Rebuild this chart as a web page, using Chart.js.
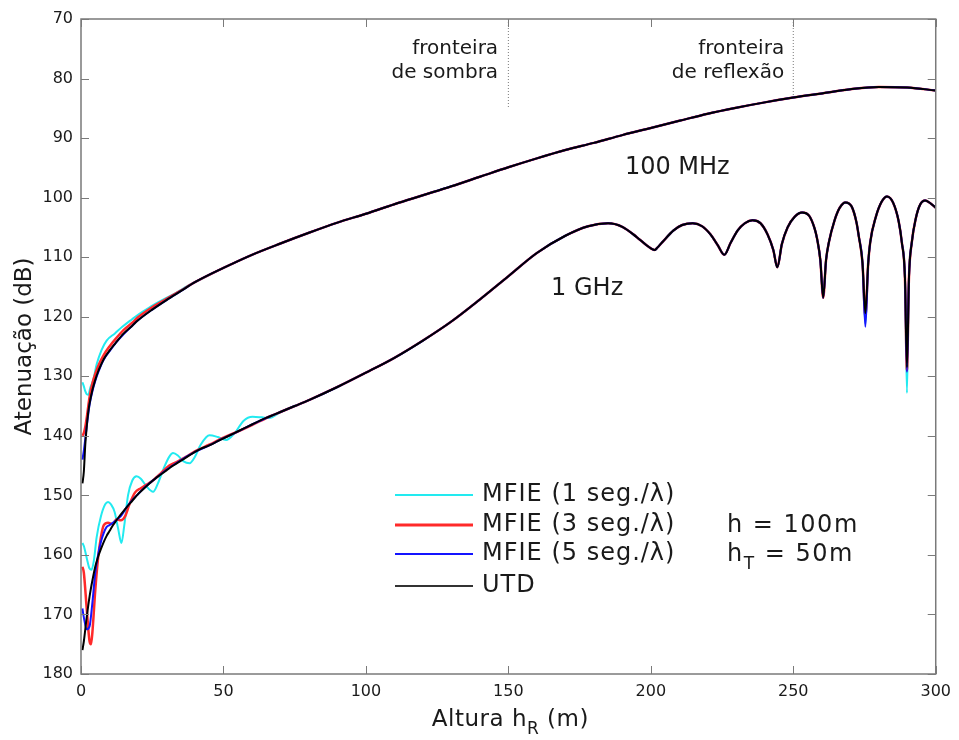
<!DOCTYPE html>
<html>
<head>
<meta charset="utf-8">
<script src="https://cdn.jsdelivr.net/npm/chart.js@4.4.1/dist/chart.umd.min.js"></script>
<style>
	html, body { margin: 0; padding: 0; background: #fff; }
	#wrap { width: 959px; height: 740px; }
</style>
</head>
<body>
<div id="wrap"><canvas id="myChart" width="959" height="740"></canvas></div>
<script>
// series names / colours
const seriesNames = ['MFIE (1 seg./λ)', 'MFIE (3 seg./λ)', 'MFIE (5 seg./λ)', 'UTD'];
const seriesColors = ['#22eaf0', '#ff2a2a', '#1414ff', '#000000'];
const seriesWidths = [2, 2.5, 2, 2];

// ---- 100 MHz, low heights (curves differ) ----
const h100Mfie1 = [0.5, 1, 1.5, 2, 2.6, 3.2, 4.3, 5.5, 7.2, 9, 11.9, 14.5, 17.7, 20.5, 23.5, 27, 32.9, 38.7];
const db100Mfie1 = [131, 131.7, 132.5, 133, 133.1, 132, 130.6, 128, 125.6, 124, 122.8, 121.7, 120.5, 119.5, 118.6, 117.6, 116.1, 114.5];
const h100Mfie3 = [0.5, 1, 1.5, 2, 3, 4, 5, 6, 8, 10, 12, 15, 18, 20, 25, 30, 35];
const db100Mfie3 = [140, 139.5, 138.5, 137, 133.5, 131.2, 129.6, 128.3, 126.4, 125, 123.8, 122.2, 121, 120.1, 118.4, 117, 115.6];
const h100Mfie5 = [0.5, 1, 1.5, 2, 3, 4, 5, 6, 8, 10, 12, 15, 18, 20, 25, 30, 35];
const db100Mfie5 = [144, 142.5, 140.5, 138.5, 134.8, 132.5, 130.8, 129.4, 127.2, 125.8, 124.5, 122.9, 121.5, 120.6, 118.8, 117.2, 115.7];
const h100Utd = [0.5, 1, 1.5, 2, 2.5, 3, 4, 5, 6, 7, 8, 10, 12, 15, 18, 20, 25, 30, 35];
const db100Utd = [148, 146, 141.5, 138.5, 136.2, 134.6, 132.3, 130.6, 129.2, 128.1, 127.1, 125.7, 124.5, 122.8, 121.5, 120.6, 118.8, 117.2, 115.7];
// ---- 100 MHz, all methods coincide ----
const h100Hi = [40, 50, 60, 70, 80, 90, 100, 110, 120, 130, 140, 150, 160, 170, 180, 190, 200, 210, 220, 230, 240, 250, 260, 270, 280, 290, 300];
const db100Hi = [114.2, 111.8, 109.6, 107.7, 105.9, 104.2, 102.7, 101.1, 99.6, 98.1, 96.5, 94.9, 93.4, 92, 90.8, 89.5, 88.3, 87.1, 85.9, 84.9, 84, 83.2, 82.5, 81.8, 81.4, 81.5, 82];

// ---- 1 GHz, low heights ----
const h1gMfie1 = [0.5, 1, 2, 3, 3.7, 4.5, 5.5, 7, 8.5, 9.5, 10.5, 11.8, 13, 14.2, 15.2, 16.5, 18, 19.5, 21, 23, 25.3, 27, 29, 31, 32.3, 34, 36, 38.1, 40, 42, 45.1, 48, 50.9, 54, 57, 60.2, 63.5, 66];
const db1gMfie1 = [158, 158.5, 160.5, 162.3, 162.5, 161, 157, 153.5, 151.5, 151.1, 151.5, 152.8, 155.5, 158, 155, 150, 147.5, 146.8, 147.2, 148.5, 149.4, 148, 145.5, 143.5, 142.9, 143.3, 144.3, 144.6, 143.5, 141.5, 139.9, 140.2, 140.7, 139.5, 137.5, 136.8, 136.9, 137];
const h1gMfie3 = [0.5, 1, 2, 3, 3.5, 4, 5, 6, 7, 8, 9.5, 11, 12.5, 14, 15.5, 17, 19, 21, 23, 25, 28, 31, 34, 37, 40, 45, 50, 55, 60, 66];
const db1gMfie3 = [162, 163, 169, 174.5, 175, 173, 166, 160.5, 157, 155, 154.6, 154.8, 154, 154.2, 153.5, 151.5, 149.5, 148.8, 148.2, 147.6, 146.3, 145, 144.3, 143.5, 142.6, 141.5, 140.3, 139.3, 138.2, 136.8];
const h1gMfie5 = [0.5, 1, 2, 3, 4, 5, 6, 7, 8, 9, 10, 12, 14, 16, 18, 20, 23, 26, 30, 35, 40, 45, 50, 55, 60, 66];
const db1gMfie5 = [169, 170.5, 172.5, 172, 168, 163, 160, 157.8, 156.3, 155.3, 155, 154.3, 153.5, 152, 150.8, 149.8, 148.4, 147.2, 145.7, 144.1, 142.7, 141.6, 140.4, 139.3, 138.1, 136.8];
const h1gUtd = [0.5, 1, 2, 3, 4, 5, 6, 7, 8, 9, 10, 11, 12, 13, 14, 15, 16, 18, 20, 22, 24, 26, 28, 30, 32, 34, 36, 38, 40, 42, 45, 48, 51, 54, 57, 60, 63, 66];
const db1gUtd = [176, 174.5, 170.5, 167, 164.3, 162, 160.3, 159, 157.8, 156.8, 156, 155.2, 154.5, 153.8, 153.2, 152.6, 152, 150.9, 149.8, 148.9, 148, 147.2, 146.5, 145.8, 145.1, 144.5, 143.9, 143.3, 142.7, 142.2, 141.6, 140.9, 140.2, 139.5, 138.8, 138.1, 137.4, 136.8];
// ---- 1 GHz, middle (all methods coincide) ----
const h1gMid = [70, 75, 80, 90, 100, 110, 120, 130, 140, 150, 160, 170, 178, 185, 190, 195, 198.5, 200.3, 201.3, 202.3, 204, 208, 211, 214.7, 218, 221, 223.5, 225.8, 228, 230.5, 233, 235.7, 238.5, 241, 243, 244.4, 246, 248, 250.5, 253.1, 255.5, 257.5, 258.4, 259.5, 260.5, 261.5, 262.5, 264.5, 266.3, 268.3];
const db1gMid = [136, 135, 134, 131.8, 129.4, 126.9, 124, 120.8, 117.1, 113.2, 109.3, 106.4, 104.8, 104.3, 104.9, 106.6, 108, 108.6, 108.8, 108.4, 107.5, 105.5, 104.6, 104.3, 104.8, 106.2, 108, 109.6, 107.6, 105.5, 104.3, 103.8, 104.3, 106.2, 108.8, 111.7, 107.8, 105, 103.2, 102.5, 103, 105.2, 107, 110.5, 116.8, 110.5, 107.5, 103.8, 101.7, 100.8];
// ---- 1 GHz, last deep nulls ----
const h1gTail = [270.5, 272.2, 273, 274.3, 275.3, 276.3, 277, 279, 281, 282.9, 285, 287, 288.1, 289.2, 289.9, 290.6, 291.6, 293, 294.5, 296.3, 298, 300];
const db1gTailMfie1 = [101.5, 104.2, 106.5, 111, 121.2, 111, 107.5, 103.2, 100.7, 99.8, 100.8, 104, 107.5, 113.5, 132.8, 113.5, 107.5, 103.5, 101.2, 100.5, 100.9, 101.7];
const db1gTailMfie3 = [101.5, 104.2, 106.5, 111, 120, 111, 107.5, 103.2, 100.7, 99.8, 100.8, 104, 107.5, 113.5, 129, 113.5, 107.5, 103.5, 101.2, 100.5, 100.9, 101.7];
const db1gTailMfie5 = [101.5, 104.2, 106.5, 111, 121.7, 111, 107.5, 103.2, 100.7, 99.8, 100.8, 104, 107.5, 113.5, 129.3, 113.5, 107.5, 103.5, 101.2, 100.5, 100.9, 101.7];
const db1gTailUtd = [101.5, 104.2, 106.5, 111, 119.4, 111, 107.5, 103.2, 100.7, 99.8, 100.8, 104, 107.5, 113.5, 128.5, 113.5, 107.5, 103.5, 101.2, 100.5, 100.9, 101.7];

// boundary markers
const boundaryH = [150, 250];
const boundaryEnd = [85, 83];

const xTicks = { min: 0, max: 300, step: 50 };
const yTicks = { min: 70, max: 180, step: 10 };

const FONT = '"DejaVu Sans", "Liberation Sans", sans-serif';
const TEXT = '#1a1a1a';

const pts = (hs, vs) => hs.map((h, i) => ({ x: h, y: vs[i] }));

const curves100 = [
	pts(h100Mfie1, db100Mfie1).concat(pts(h100Hi, db100Hi)),
	pts(h100Mfie3, db100Mfie3).concat(pts(h100Hi, db100Hi)),
	pts(h100Mfie5, db100Mfie5).concat(pts(h100Hi, db100Hi)),
	pts(h100Utd, db100Utd).concat(pts(h100Hi, db100Hi)),
];
const curves1g = [
	pts(h1gMfie1, db1gMfie1).concat(pts(h1gMid, db1gMid), pts(h1gTail, db1gTailMfie1)),
	pts(h1gMfie3, db1gMfie3).concat(pts(h1gMid, db1gMid), pts(h1gTail, db1gTailMfie3)),
	pts(h1gMfie5, db1gMfie5).concat(pts(h1gMid, db1gMid), pts(h1gTail, db1gTailMfie5)),
	pts(h1gUtd, db1gUtd).concat(pts(h1gMid, db1gMid), pts(h1gTail, db1gTailUtd)),
];

let datasets = [];
[curves100, curves1g].forEach((curves, f) => {
	curves.forEach((data, i) => {
		datasets.push({
			label: seriesNames[i] + (f === 0 ? ' 100 MHz' : ' 1 GHz'),
			data,
			borderColor: seriesColors[i],
			borderWidth: seriesWidths[i],
			cubicInterpolationMode: 'monotone',
			pointRadius: 0,
			fill: false,
			order: 3 - i,
		});
	});
});
boundaryH.forEach((h, i) => {
	datasets.push({
		label: 'fronteira ' + i,
		data: [{ x: h, y: yTicks.min }, { x: h, y: boundaryEnd[i] }],
		borderColor: '#7a7a7a',
		borderWidth: 1,
		borderDash: [1, 2],
		pointRadius: 0,
		order: 10,
	});
});

// text with optional subscript parts: [[text, isSub], ...]
const drawRich = (ctx, parts, x, y, size, align, spacing) => {
	const subSize = Math.round(size * 0.72);
	ctx.letterSpacing = (spacing || 0) + 'px';
	let widths = parts.map(([t, sub]) => {
		ctx.font = `${sub ? subSize : size}px ${FONT}`;
		return ctx.measureText(t).width;
	});
	const total = widths.reduce((a, b) => a + b, 0);
	let cx = align === 'center' ? x - total / 2 : x;
	ctx.textAlign = 'left';
	ctx.textBaseline = 'alphabetic';
	parts.forEach(([t, sub], i) => {
		ctx.font = `${sub ? subSize : size}px ${FONT}`;
		ctx.fillText(t, cx, y + (sub ? size * 0.35 : 0));
		cx += widths[i];
	});
	ctx.letterSpacing = '0px';
};

const decorPlugin = {
	id: 'decor',
	afterDraw(chart) {
		const { ctx, chartArea: a, scales: { x, y } } = chart;
		ctx.save();

		// axis box and inward ticks
		ctx.strokeStyle = '#7a7a7a';
		ctx.lineWidth = 1.5;
		ctx.strokeRect(a.left, a.top, a.right - a.left, a.bottom - a.top);
		ctx.lineWidth = 1;
		ctx.beginPath();
		x.ticks.forEach((t) => {
			const px = Math.round(x.getPixelForValue(t.value)) + 0.5;
			ctx.moveTo(px, a.bottom); ctx.lineTo(px, a.bottom - 8);
			ctx.moveTo(px, a.top); ctx.lineTo(px, a.top + 8);
		});
		y.ticks.forEach((t) => {
			const py = Math.round(y.getPixelForValue(t.value)) + 0.5;
			ctx.moveTo(a.left, py); ctx.lineTo(a.left + 8, py);
			ctx.moveTo(a.right, py); ctx.lineTo(a.right - 8, py);
		});
		ctx.stroke();

		ctx.fillStyle = TEXT;

		// boundary labels
		ctx.font = `20px ${FONT}`;
		ctx.textAlign = 'right';
		ctx.textBaseline = 'middle';
		ctx.fillText('fronteira', x.getPixelForValue(146.4), y.getPixelForValue(75));
		ctx.fillText('de sombra', x.getPixelForValue(146.4), y.getPixelForValue(79.1));
		ctx.fillText('fronteira', x.getPixelForValue(246.8), y.getPixelForValue(75));
		ctx.fillText('de reflexão', x.getPixelForValue(246.8), y.getPixelForValue(79.1));

		// frequency labels
		ctx.font = `24px ${FONT}`;
		ctx.textAlign = 'left';
		ctx.fillText('100 MHz', x.getPixelForValue(190.9), y.getPixelForValue(95));
		ctx.fillText('1 GHz', x.getPixelForValue(165), y.getPixelForValue(115.3));

		// legend
		const rows = [495, 525, 554, 586];
		ctx.font = `24px ${FONT}`;
		ctx.letterSpacing = '1px';
		rows.forEach((ry, i) => {
			ctx.strokeStyle = i === 3 ? '#333' : seriesColors[i];
			ctx.lineWidth = i === 1 ? 3 : 2;
			ctx.beginPath();
			ctx.moveTo(395, ry); ctx.lineTo(473, ry);
			ctx.stroke();
			ctx.textAlign = 'left';
			ctx.textBaseline = 'middle';
			ctx.fillText(seriesNames[i], 482, ry);
		});
		ctx.letterSpacing = '0px';

		// geometry note
		drawRich(ctx, [['h = 100m', false]], 727, 532, 24, 'left', 1.5);
		drawRich(ctx, [['h', false], ['T', true], [' = 50m', false]], 727, 561, 24, 'left', 1.5);

		// axis titles
		drawRich(ctx, [['Altura h', false], ['R', true], [' (m)', false]], (a.left + a.right) / 2 + 2, 726, 23, 'center', 0.5);
		ctx.translate(25, (a.top + a.bottom) / 2);
		ctx.rotate(-Math.PI / 2);
		ctx.font = `23px ${FONT}`;
		ctx.textAlign = 'center';
		ctx.textBaseline = 'middle';
		ctx.fillText('Atenuação (dB)', 0, 0);

		ctx.restore();
	},
};

const ctx = document.getElementById('myChart').getContext('2d');
const myChart = new Chart(ctx, {
	type: 'line',
	data: { datasets },
	options: {
		responsive: false,
		animation: false,
		devicePixelRatio: 1,
		layout: { padding: { top: 19, right: 20, left: 0, bottom: 0 } },
		plugins: { legend: { display: false }, tooltip: { enabled: false } },
		scales: {
			x: {
				type: 'linear',
				min: xTicks.min,
				max: xTicks.max,
				ticks: { stepSize: xTicks.step, color: TEXT, font: { family: FONT, size: 16 }, padding: 8, maxRotation: 0 },
				grid: { display: false, drawTicks: false },
				border: { display: false },
				afterFit: (s) => { s.height = 66; },
			},
			y: {
				type: 'linear',
				reverse: true,
				min: yTicks.min,
				max: yTicks.max,
				ticks: { stepSize: yTicks.step, color: TEXT, font: { family: FONT, size: 16 }, padding: 8 },
				grid: { display: false, drawTicks: false },
				border: { display: false },
				afterFit: (s) => { s.width = 81; },
			},
		},
	},
	plugins: [decorPlugin],
});
</script>
</body>
</html>
